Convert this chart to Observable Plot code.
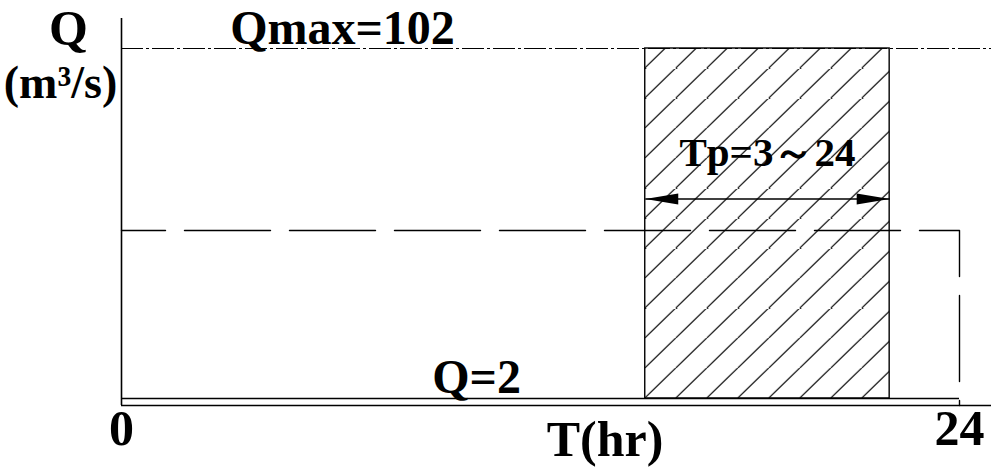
<!DOCTYPE html>
<html>
<head>
<meta charset="utf-8">
<script src="https://cdn.jsdelivr.net/npm/d3@7"></script>
<script src="https://cdn.jsdelivr.net/npm/@observablehq/plot@0.6"></script>
<style>
  html, body { margin: 0; padding: 0; background: #fff; }
</style>
</head>
<body>
<div id="chart"></div>
<script>
// Design hydrograph: constant base flow, a peak block of Qmax, and the mean level.
const timeDomain = [0, 24];      // T (hr)
const timeTicks = [0, 24];
const baseFlow = 2;              // Q = 2 m³/s
const peakFlow = 102;            // Qmax = 102 m³/s
const meanFlow = 50;             // dashed level
const peakWindow = [15, 22];     // hatched peak block (hr)
const tpRange = [3, 24];         // range of peak timing
const arrowFlow = 59;            // height of the Tp dimension arrow
const axisTopFlow = 110.6;       // top of the Q axis line

const serif = "'Liberation Serif', 'Times New Roman', 'DejaVu Serif', serif";

const peakBlock = [{t1: peakWindow[0], t2: peakWindow[1], q1: baseFlow, q2: peakFlow}];
const meanPath = [
  {t: timeDomain[0], q: meanFlow},
  {t: timeDomain[1], q: meanFlow},
  {t: timeDomain[1], q: 0}
];
const arrowEnds = [
  {t: peakWindow[0], q: arrowFlow, angle: 180},
  {t: peakWindow[1], q: arrowFlow, angle: 0}
];

// Filled, slender arrowhead with its tip at the origin, pointing to +x.
const arrowHead = {
  draw(context) {
    context.moveTo(0, 0);
    context.lineTo(-33, -5.5);
    context.lineTo(-33, 5.5);
    context.closePath();
  }
};

const textStyle = {fontFamily: serif, fontWeight: "bold", fill: "black", lineAnchor: "bottom", textAnchor: "middle"};

const chart = Plot.plot({
  width: 991,
  height: 473,
  marginLeft: 121,
  marginRight: 32,
  marginTop: 48,
  marginBottom: 68,
  style: {background: "white", overflow: "visible"},
  x: {domain: timeDomain},
  y: {domain: [0, peakFlow], axis: null},
  marks: [
    // hatched peak block
    Plot.rect(peakBlock, {x1: "t1", x2: "t2", y1: "q1", y2: "q2", fill: "url(#hatch)", stroke: "black", strokeWidth: 1.4}),
    // Qmax reference line
    Plot.ruleY([peakFlow], {x1: timeDomain[0], x2: 25, stroke: "black", strokeWidth: 1, strokeDasharray: "22,3,3,3"}),
    // mean level, dropping to zero at the end of the day
    Plot.line(meanPath, {x: "t", y: "q", stroke: "black", strokeWidth: 1.4, strokeDasharray: "86,19", strokeDashoffset: 42}),
    // base flow
    Plot.ruleY([baseFlow], {x1: timeDomain[0], x2: timeDomain[1], stroke: "black", strokeWidth: 1.5}),
    // axes lines
    Plot.ruleY([0], {x1: timeDomain[0], x2: 25, stroke: "black", strokeWidth: 1.5}),
    Plot.ruleX([timeDomain[0]], {y1: 0, y2: axisTopFlow, stroke: "black", strokeWidth: 1.6}),
    // Tp dimension arrow
    Plot.link([peakBlock[0]], {x1: "t1", x2: "t2", y1: arrowFlow, y2: arrowFlow, stroke: "black", strokeWidth: 1.5}),
    Plot.dot(arrowEnds, {x: "t", y: "q", symbol: arrowHead, rotate: "angle", fill: "black", stroke: null}),
    // tick labels
    Plot.axisX(timeTicks, {tickSize: 0, tickPadding: 4, fontSize: 50, fontFamily: serif, fontWeight: "bold", label: null, tickFormat: d => String(d)}),
    // annotations
    Plot.text([`Qmax=${peakFlow}`], {...textStyle, x: 6.33, y: peakFlow, dy: -5, fontSize: 48}),
    Plot.text([`Q=${baseFlow}`], {...textStyle, x: 10.17, y: baseFlow, dy: -6, fontSize: 48}),
    Plot.text([`Tp=${tpRange[0]}～${tpRange[1]}`], {...textStyle, x: (peakWindow[0] + peakWindow[1]) / 2, y: arrowFlow, dy: -33, fontSize: 41}),
    Plot.text(["T(hr)"], {...textStyle, x: 13.85, y: 0, dy: 50, fontSize: 50}),
    Plot.text(["Q"], {...textStyle, frameAnchor: "top-left", dx: -53, dy: -4, fontSize: 50}),
    Plot.text(["(m³/s)"], {...textStyle, frameAnchor: "top-left", dx: -61, dy: 49, fontSize: 46})
  ]
});

// Diagonal hatch, anchored at the block's lower-left corner.
const W = 31, H = 30;
const px = chart.scale("x").apply(peakWindow[0]);
const py = chart.scale("y").apply(baseFlow);
const defs = d3.select(chart).insert("defs", ":first-child");
defs.append("pattern")
    .attr("id", "hatch")
    .attr("patternUnits", "userSpaceOnUse")
    .attr("x", px)
    .attr("y", py)
    .attr("width", W)
    .attr("height", H)
  .append("path")
    .attr("d", `M${-W},${H}L0,0M0,${H}L${W},0M${W},${2 * H}L${2 * W},${H}`)
    .attr("stroke", "black")
    .attr("stroke-width", 1.2)
    .attr("fill", "none");

document.getElementById("chart").appendChild(chart);
</script>
</body>
</html>
